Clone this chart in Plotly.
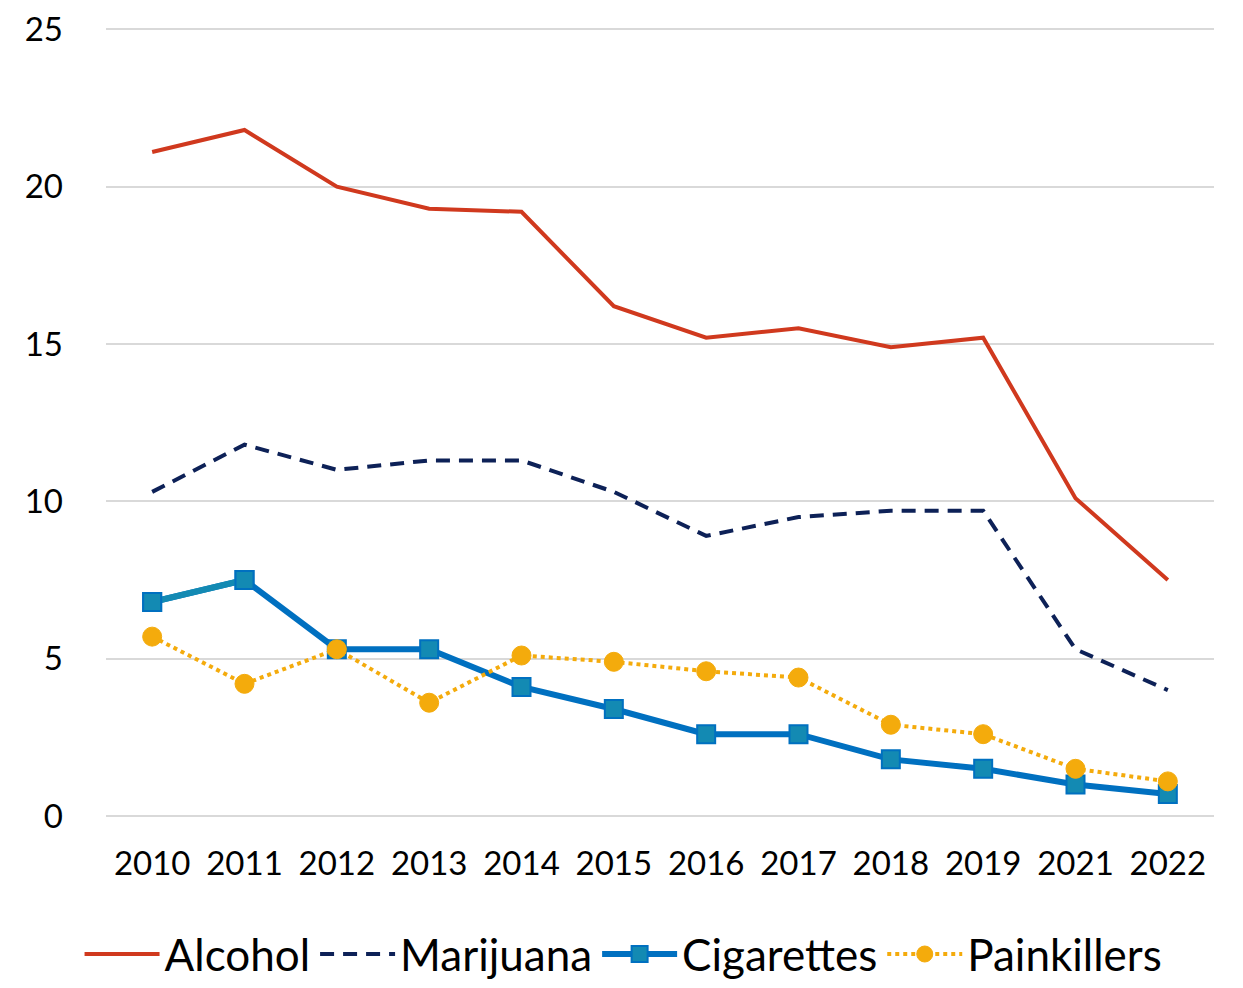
import plotly.graph_objects as go

years = ["2010", "2011", "2012", "2013", "2014", "2015", "2016", "2017", "2018", "2019", "2021", "2022"]
alcohol = [21.1, 21.8, 20.0, 19.3, 19.2, 16.2, 15.2, 15.5, 14.9, 15.2, 10.1, 7.5]
marijuana = [10.3, 11.8, 11.0, 11.3, 11.3, 10.3, 8.9, 9.5, 9.7, 9.7, 5.3, 4.0]
cigarettes = [6.8, 7.5, 5.3, 5.3, 4.1, 3.4, 2.6, 2.6, 1.8, 1.5, 1.0, 0.7]
painkillers = [5.7, 4.2, 5.3, 3.6, 5.1, 4.9, 4.6, 4.4, 2.9, 2.6, 1.5, 1.1]
y_ticks = [0, 5, 10, 15, 20, 25]

FONT = "Lato, Carlito, Calibri, sans-serif"

fig = go.Figure()

fig.add_trace(go.Scatter(
    x=years, y=alcohol, name="Alcohol", mode="lines",
    line=dict(color="#D0391E", width=4),
))
fig.add_trace(go.Scatter(
    x=years, y=marijuana, name="Marijuana", mode="lines",
    line=dict(color="#0D2157", width=4, dash="14px,9px"),
))
fig.add_trace(go.Scatter(
    x=years, y=cigarettes, name="Cigarettes", mode="lines+markers",
    line=dict(color="#0070C0", width=6),
    marker=dict(symbol="square", size=18, color="#138AB3",
                line=dict(color="#0070C0", width=2)),
))
# lighter opening segment of the cigarettes line
fig.add_trace(go.Scatter(
    x=years[:2], y=cigarettes[:2], mode="lines+markers", showlegend=False,
    hoverinfo="skip",
    line=dict(color="#138AB3", width=6),
    marker=dict(symbol="square", size=18, color="#138AB3",
                line=dict(color="#0070C0", width=2)),
))
fig.add_trace(go.Scatter(
    x=years, y=painkillers, name="Painkillers", mode="lines+markers",
    line=dict(color="#F4AB0C", width=4, dash="dot"),
    marker=dict(symbol="circle", size=19, color="#F4AB0C",
                line=dict(color="#F4AB0C", width=1)),
))

fig.update_layout(
    width=1243, height=988,
    margin=dict(l=106, r=29, t=23, b=172),
    paper_bgcolor="white", plot_bgcolor="white",
    font=dict(family=FONT, color="#000000", size=33),
    showlegend=True,
    legend=dict(
        orientation="h",
        xref="container", x=0.064, xanchor="left",
        yref="container", y=0.034, yanchor="middle",
        font=dict(size=44, family=FONT, color="#000000"),
        itemwidth=75, tracegroupgap=0,
        traceorder="normal",
    ),
    xaxis=dict(
        type="category", range=[-0.5, 11.5],
        showgrid=False, showline=False, zeroline=False,
        ticks="", ticklabelstandoff=25, automargin=False,
        tickfont=dict(size=33, family=FONT),
    ),
    yaxis=dict(
        range=[0, 25.2], tickvals=y_ticks,
        showgrid=True, gridcolor="#D9D9D9", gridwidth=2,
        zeroline=True, zerolinecolor="#D9D9D9", zerolinewidth=2,
        showline=False, ticks="", ticklabelstandoff=42, automargin=False,
        tickfont=dict(size=33, family=FONT),
    ),
)

fig.write_html("out.html")
